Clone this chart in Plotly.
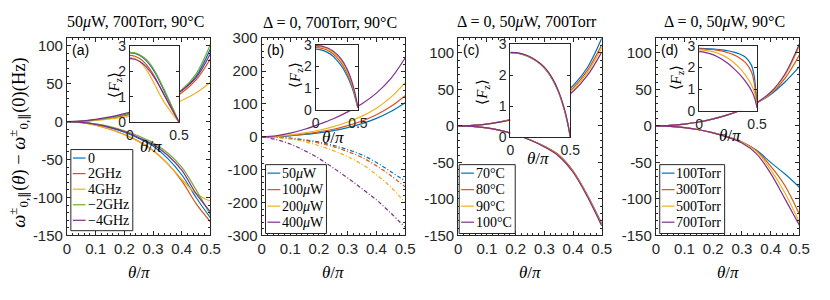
import plotly.graph_objects as go

W, H = 830, 300

THETA = [0.0, 0.05, 0.1, 0.15, 0.2, 0.25, 0.3, 0.35, 0.4, 0.45, 0.5]
THETA_IN = [0.0, 0.05, 0.1, 0.15, 0.2, 0.25, 0.3, 0.35, 0.4, 0.45, 0.475, 0.5]

C5 = ["#0072BD", "#D95319", "#EDB120", "#77AC30", "#7E2F8E"]
C4 = ["#0072BD", "#D95319", "#EDB120", "#7E2F8E"]

TITLES = ["50<i>μ</i>W, 700Torr, 90°C",
          "Δ = 0, 700Torr, 90°C",
          "Δ = 0, 50<i>μ</i>W, 700Torr",
          "Δ = 0, 50<i>μ</i>W, 90°C"]
PANEL_TAGS = ["(a)", "(b)", "(c)", "(d)"]

# ---- panel (a): detuning
A_LABELS = ["0", "2GHz", "4GHz", "−2GHz", "−4GHz"]
A_UP = [
    [0, 0.6, 2.4, 5.2, 9, 14, 20.5, 29, 41, 60, 96],
    [0, 0.5, 2.0, 4.5, 8, 12.5, 18.5, 26.5, 38, 55, 83],
    [0, 0.4, 1.5, 3.5, 6, 9.5, 14, 20, 28, 38, 52],
    [0, 0.6, 2.3, 5, 8.8, 13.8, 20.5, 29.5, 42, 63, 102],
    [0, 0.8, 3, 6.2, 10.5, 15.5, 22, 30, 41, 58, 90],
]
A_LO = [
    [0, -1, -3.5, -8, -14, -22, -32, -48, -70, -100, -127],
    [0, -1.2, -4.5, -10, -17, -26, -38, -55, -78, -108, -132],
    [0, -1.2, -4.5, -10, -17, -26, -38, -55, -76, -95, -105],
    [0, -0.8, -3, -6.5, -12, -19, -28, -41, -60, -90, -123],
    [0, -1, -3.5, -7.5, -13, -21, -30, -44, -64, -95, -119],
]
A_IN = [
    [2.72, 2.70, 2.62, 2.48, 2.27, 1.98, 1.62, 1.22, 0.82, 0.41, 0.2, 0],
    [2.62, 2.59, 2.50, 2.34, 2.10, 1.80, 1.44, 1.06, 0.70, 0.35, 0.17, 0],
    [2.55, 2.50, 2.38, 2.16, 1.86, 1.50, 1.12, 0.78, 0.50, 0.24, 0.12, 0],
    [2.74, 2.72, 2.65, 2.52, 2.32, 2.04, 1.68, 1.28, 0.86, 0.43, 0.21, 0],
    [2.50, 2.47, 2.38, 2.24, 2.02, 1.75, 1.42, 1.07, 0.71, 0.36, 0.18, 0],
]

# ---- panel (b): power
B_LABELS = ["50<i>μ</i>W", "100<i>μ</i>W", "200<i>μ</i>W", "400<i>μ</i>W"]
B_UP = [
    [0, 0.8, 3, 7, 12, 19, 28, 40, 56, 77, 104],
    [0, 1, 4, 9, 15, 23, 34, 48, 67, 92, 125],
    [0, 1.5, 6, 12, 20, 31, 45, 63, 87, 120, 165],
    [0, 3, 11, 23, 38, 55, 76, 101, 133, 177, 240],
]
B_LO = [
    [0, -1, -4, -9, -16, -26, -39, -55, -78, -106, -134],
    [0, -1, -5, -11, -19, -30, -45, -63, -88, -118, -152],
    [0, -2, -7, -15, -27, -42, -60, -84, -115, -153, -200],
    [0, -8, -22, -42, -66, -95, -125, -158, -192, -232, -275],
]
B_IN = [
    [2.80, 2.78, 2.72, 2.63, 2.50, 2.30, 2.05, 1.74, 1.33, 0.80, 0.45, 0.1],
    [2.88, 2.86, 2.81, 2.73, 2.60, 2.42, 2.18, 1.87, 1.45, 0.88, 0.50, 0.1],
    [2.93, 2.92, 2.87, 2.79, 2.67, 2.50, 2.27, 1.96, 1.54, 0.95, 0.55, 0.1],
    [2.96, 2.95, 2.91, 2.84, 2.73, 2.57, 2.35, 2.05, 1.63, 1.02, 0.60, 0.1],
]

# ---- panel (c): temperature
C_LABELS = ["70°C", "80°C", "90°C", "100°C"]
C_UP = [
    [0, 0.7, 2.6, 6, 10.5, 17, 26, 38, 55, 80, 120],
    [0, 0.7, 2.5, 5.8, 10, 16, 24.5, 36, 52, 76, 111],
    [0, 0.7, 2.5, 5.6, 9.8, 15.5, 24, 35, 50, 73, 107],
    [0, 0.7, 2.4, 5.4, 9.4, 15, 23, 33, 47, 69, 101],
]
C_LO = [
    [0, -0.7, -2.8, -6.5, -12, -19, -28, -40, -62, -95, -134],
    [0, -0.7, -2.8, -6.5, -12, -19, -28, -40, -62, -95, -135],
    [0, -0.7, -2.8, -6.5, -12, -19, -28.5, -41, -63, -96, -136],
    [0, -0.7, -2.8, -6.6, -12.2, -19.3, -28.8, -41.5, -63.5, -97, -137],
]
C_IN = [
    [2.71, 2.70, 2.66, 2.59, 2.49, 2.35, 2.15, 1.87, 1.47, 0.89, 0.50, 0.02],
    [2.72, 2.71, 2.67, 2.60, 2.50, 2.36, 2.16, 1.88, 1.48, 0.90, 0.51, 0.02],
    [2.72, 2.71, 2.67, 2.60, 2.50, 2.36, 2.17, 1.89, 1.49, 0.91, 0.52, 0.02],
    [2.73, 2.72, 2.68, 2.61, 2.51, 2.37, 2.18, 1.90, 1.50, 0.92, 0.53, 0.02],
]

# ---- panel (d): pressure
D_LABELS = ["100Torr", "300Torr", "500Torr", "700Torr"]
D_UP = [
    [0, 0.6, 2.4, 5.3, 9.5, 15, 22, 31, 43, 60, 81],
    [0, 0.6, 2.4, 5.3, 9.5, 15, 22, 31, 44, 65, 97],
    [0, 0.6, 2.4, 5.3, 9.5, 15, 22, 31, 45, 69, 109],
    [0, 0.6, 2.4, 5.3, 9.5, 15, 22, 31.5, 46, 71, 112],
]
D_LO = [
    [0, -0.6, -2.4, -5.3, -9.5, -15, -22, -33, -50, -66, -84],
    [0, -0.6, -2.4, -5.3, -9.5, -15, -22, -34, -55, -82, -121],
    [0, -0.6, -2.4, -5.3, -9.5, -15, -22.5, -35, -60, -92, -132],
    [0, -0.6, -2.4, -5.3, -9.5, -15.5, -23.5, -38, -65, -100, -136],
]
D_IN = [
    [2.88, 2.875, 2.86, 2.84, 2.81, 2.77, 2.71, 2.62, 2.47, 2.12, 1.6, 0.15],
    [2.86, 2.85, 2.83, 2.80, 2.75, 2.68, 2.58, 2.44, 2.22, 1.82, 1.3, 0.15],
    [2.81, 2.79, 2.75, 2.68, 2.57, 2.42, 2.22, 1.97, 1.65, 1.22, 0.9, 0.15],
    [2.73, 2.70, 2.63, 2.52, 2.37, 2.18, 1.95, 1.68, 1.36, 0.95, 0.65, 0.15],
]

Y_RANGES = [[-150, 110], [-300, 300], [-150, 120], [-150, 120]]
Y_TICKS = [[-150, -100, -50, 0, 50, 100],
           [-300, -200, -100, 0, 100, 200, 300],
           [-150, -100, -50, 0, 50, 100],
           [-150, -100, -50, 0, 50, 100]]
Y_MINOR = [10, 20, 10, 10]
X_TICKS = [0, 0.1, 0.2, 0.3, 0.4, 0.5]

PANELS = [
    (A_LABELS, A_UP, A_LO, A_IN, C5, "solid"),
    (B_LABELS, B_UP, B_LO, B_IN, C4, "4px,2px,1px,2px"),
    (C_LABELS, C_UP, C_LO, C_IN, C4, "solid"),
    (D_LABELS, D_UP, D_LO, D_IN, C4, "solid"),
]

# ---- layout geometry (pixels)
MAIN_X = [(64, 210), (262, 408), (462, 608), (663, 809)]
MAIN_Y = (31, 240)
INSET = [(128, 178, 39, 120), (317, 360, 38, 107), (515, 576, 37, 136), (707, 766, 39, 108)]
INSET_YLAB = [(113, 80), (297, 70), (487, 88), (684, 72)]
INSET_XLAB = [(150, 146), (335, 136), (543, 159), (738, 134)]
LEGEND_BOX = [(68, 131, 149, 235), (266, 328, 165, 238), (463, 520, 165, 238), (667, 733, 165, 238)]
LEGEND_ROWS = [[158, 174.5, 191, 207.5, 224], [174, 191.5, 209, 226], [174, 191.5, 209, 226], [174, 191.5, 209, 226]]

INK = "#262626"
SANS = "Liberation Sans, Arial, sans-serif"
SERIF = "Liberation Serif, Times New Roman, serif"


def px(x):
    return x / W


def py(y):
    return 1 - y / H


fig = go.Figure()
layout = dict(
    width=W, height=H,
    margin=dict(l=0, r=0, t=0, b=0),
    paper_bgcolor="white", plot_bgcolor="white",
    showlegend=False,
    hovermode=False,
)
annotations = []
shapes = []


def axname(i):
    return "" if i == 1 else str(i)


for p, (labels, up, lo, inset, cols, lo_dash) in enumerate(PANELS):
    mi = p + 1
    ii = p + 5
    # main axes
    x0, x1 = MAIN_X[p]
    layout["xaxis" + axname(mi)] = dict(
        domain=[px(x0), px(x1)], range=[0, 0.5], anchor="y" + axname(mi),
        tickvals=X_TICKS, ticktext=[("0" if v == 0 else f"{v:g}") for v in X_TICKS],
        ticks="inside", ticklen=4, tickcolor=INK, showline=True, linecolor=INK, linewidth=1,
        mirror="allticks", showgrid=False, zeroline=False,
        minor=dict(ticks="inside", ticklen=2, tickcolor=INK, tick0=0, dtick=0.02),
        tickfont=dict(family=SANS, size=15, color=INK),
    )
    layout["yaxis" + axname(mi)] = dict(
        domain=[py(MAIN_Y[1]), py(MAIN_Y[0])], range=Y_RANGES[p], anchor="x" + axname(mi),
        tickvals=Y_TICKS[p], ticktext=[str(v) for v in Y_TICKS[p]],
        ticks="inside", ticklen=4, tickcolor=INK, showline=True, linecolor=INK, linewidth=1,
        mirror="allticks", showgrid=False, zeroline=False,
        minor=dict(ticks="inside", ticklen=2, tickcolor=INK, tick0=0, dtick=Y_MINOR[p]),
        tickfont=dict(family=SANS, size=15, color=INK),
    )
    for k, lab in enumerate(labels):
        fig.add_trace(go.Scatter(x=THETA, y=up[k], mode="lines", line=dict(color=cols[k], width=1.2, shape="spline"),
                                 xaxis="x" + axname(mi), yaxis="y" + axname(mi), name=lab))
        fig.add_trace(go.Scatter(x=THETA, y=lo[k], mode="lines",
                                 line=dict(color=cols[k], width=1.2, shape="spline", dash=lo_dash),
                                 xaxis="x" + axname(mi), yaxis="y" + axname(mi), name=lab))
    # inset axes
    ix0, ix1, iy0, iy1 = INSET[p]
    layout["xaxis" + str(ii)] = dict(
        domain=[px(ix0), px(ix1)], range=[0, 0.5], anchor="y" + str(ii),
        tickvals=[0, 0.5], ticktext=["0", "0.5"],
        ticks="inside", ticklen=3, tickcolor=INK, showline=True, linecolor=INK, linewidth=1,
        mirror="allticks", showgrid=False, zeroline=False,
        tickfont=dict(family=SANS, size=14, color=INK),
    )
    layout["yaxis" + str(ii)] = dict(
        domain=[py(iy1), py(iy0)], range=[0, 3], anchor="x" + str(ii),
        tickvals=[0, 1, 2, 3], ticktext=["0", "1", "2", "3"],
        ticks="inside", ticklen=3, tickcolor=INK, showline=True, linecolor=INK, linewidth=1,
        mirror="allticks", showgrid=False, zeroline=False,
        tickfont=dict(family=SANS, size=14, color=INK),
    )
    for k, lab in enumerate(labels):
        fig.add_trace(go.Scatter(x=THETA_IN, y=inset[k], mode="lines",
                                 line=dict(color=cols[k], width=1.2, shape="spline"),
                                 xaxis="x" + str(ii), yaxis="y" + str(ii), name=lab))
    # texts
    cx = (x0 + x1) / 2
    annotations.append(dict(x=px(cx - 3), y=py(14), xref="paper", yref="paper", text=TITLES[p], showarrow=False,
                            font=dict(family=SERIF, size=16, color="black"), xanchor="center", yanchor="middle"))
    annotations.append(dict(x=px(cx), y=py(279), xref="paper", yref="paper", text="<i>θ</i>/<i>π</i>",
                            showarrow=False, font=dict(family=SERIF, size=17, color="black"),
                            xanchor="center", yanchor="middle"))
    annotations.append(dict(x=px(x0 + 3), y=py(43), xref="paper", yref="paper", text=PANEL_TAGS[p],
                            showarrow=False, font=dict(family=SANS, size=14, color="black"),
                            xanchor="left", yanchor="middle"))
    lx, ly = INSET_YLAB[p]
    annotations.append(dict(x=px(lx), y=py(ly), xref="paper", yref="paper", text="⟨<i>F</i><sub>z</sub>⟩",
                            showarrow=False, textangle=-90, font=dict(family=SERIF, size=15, color="black"),
                            xanchor="center", yanchor="middle"))
    tx, ty = INSET_XLAB[p]
    annotations.append(dict(x=px(tx), y=py(ty), xref="paper", yref="paper", text="<i>θ</i>/<i>π</i>",
                            showarrow=False, font=dict(family=SERIF, size=17, color="black"),
                            xanchor="center", yanchor="middle"))
    # legend box
    bx0, bx1, by0, by1 = LEGEND_BOX[p]
    shapes.append(dict(type="rect", xref="paper", yref="paper", x0=px(bx0), x1=px(bx1), y0=py(by1), y1=py(by0),
                       line=dict(color=INK, width=1), fillcolor="white", layer="above"))
    for k, lab in enumerate(labels):
        yy = LEGEND_ROWS[p][k]
        shapes.append(dict(type="line", xref="paper", yref="paper", x0=px(bx0 + 2), x1=px(bx0 + 15),
                           y0=py(yy), y1=py(yy), line=dict(color=cols[k], width=1.2), layer="above"))
        annotations.append(dict(x=px(bx0 + 15), y=py(yy), xref="paper", yref="paper", text=lab, showarrow=False,
                                font=dict(family=SERIF, size=14, color="black"), xanchor="left", yanchor="middle"))

annotations.append(dict(x=px(15), y=py(142), xref="paper", yref="paper",
                        text="<i>ω</i><sup>±</sup><sub>0,∥</sub>(<i>θ</i>) − <i>ω</i><sup>±</sup><sub>0,∥</sub>(0)(Hz)",
                        showarrow=False, textangle=-90, font=dict(family=SERIF, size=18.5, color="black"),
                        xanchor="center", yanchor="middle"))

layout["annotations"] = annotations
layout["shapes"] = shapes
fig.update_layout(**layout)
fig.write_html("out.html", config={"displayModeBar": False, "staticPlot": True},
               post_script="document.body.style.margin='0';document.body.style.overflow='hidden';")
